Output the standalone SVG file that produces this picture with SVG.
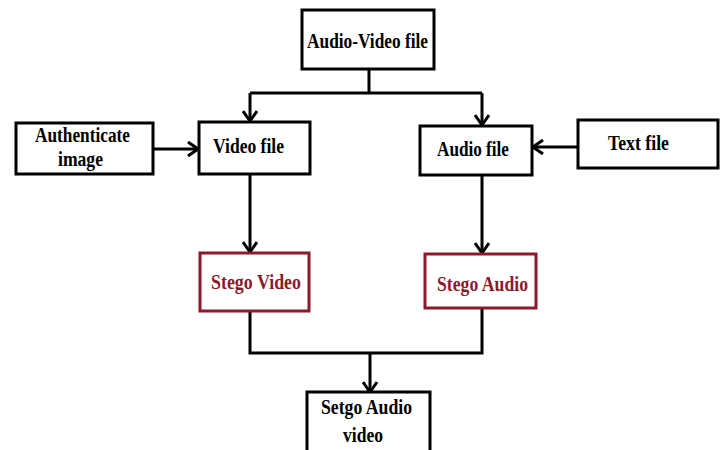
<svg xmlns="http://www.w3.org/2000/svg" width="720" height="450" viewBox="0 0 720 450">
<style>
.box{fill:#fff;stroke:#000;stroke-width:3}
.red{fill:#fff;stroke:#8B1A2B;stroke-width:3}
.t{font-family:"Liberation Serif","Times New Roman",serif;font-weight:bold;font-size:22px;fill:#000;text-anchor:start}
.tr{fill:#8B1A2B}
.ln{fill:none;stroke:#000;stroke-width:3}
</style>
<defs>
<marker id="ah" viewBox="0 0 12 16" refX="11" refY="8" markerWidth="12" markerHeight="16" markerUnits="userSpaceOnUse" orient="auto">
<path d="M1,1 L11,8 L1,15" fill="none" stroke="#000" stroke-width="3"/>
</marker>
</defs>
<g id="connectors">
<path class="ln" d="M369,69 V93"/>
<path class="ln" d="M250,93 H482"/>
<path class="ln" d="M250,93 V121" marker-end="url(#ah)"/>
<path class="ln" d="M482,93 V125" marker-end="url(#ah)"/>
<path class="ln" d="M153,149 H198" marker-end="url(#ah)"/>
<path class="ln" d="M578,147 H533" marker-end="url(#ah)"/>
<path class="ln" d="M250,174 V252" marker-end="url(#ah)"/>
<path class="ln" d="M482,175 V253" marker-end="url(#ah)"/>
<path class="ln" d="M250,311 V353 H482 V308"/>
<path class="ln" d="M370,353 V392" marker-end="url(#ah)"/>
</g>
<g id="audio-video-file">
<rect class="box" x="302" y="10" width="132" height="59"/>
<text class="t" x="307" y="48" textLength="121" lengthAdjust="spacingAndGlyphs">Audio-Video file</text>
</g>
<g id="authenticate-image">
<rect class="box" x="16" y="123" width="137" height="51"/>
<text class="t" x="35" y="142" textLength="95" lengthAdjust="spacingAndGlyphs">Authenticate</text>
<text class="t" x="58" y="166" textLength="45" lengthAdjust="spacingAndGlyphs">image</text>
</g>
<g id="video-file">
<rect class="box" x="199" y="122" width="111" height="52"/>
<text class="t" x="213" y="153" textLength="71" lengthAdjust="spacingAndGlyphs">Video file</text>
</g>
<g id="audio-file">
<rect class="box" x="420" y="126" width="112" height="49"/>
<text class="t" x="437" y="156" textLength="72" lengthAdjust="spacingAndGlyphs">Audio file</text>
</g>
<g id="text-file">
<rect class="box" x="578" y="120" width="140" height="48"/>
<text class="t" x="608" y="150" textLength="61" lengthAdjust="spacingAndGlyphs">Text file</text>
</g>
<g id="stego-video">
<rect class="red" x="200" y="253" width="109" height="58"/>
<text class="t tr" x="211" y="289" textLength="90" lengthAdjust="spacingAndGlyphs">Stego Video</text>
</g>
<g id="stego-audio">
<rect class="red" x="425" y="254" width="111" height="54"/>
<text class="t tr" x="437" y="291" textLength="91" lengthAdjust="spacingAndGlyphs">Stego Audio</text>
</g>
<g id="setgo-audio-video">
<rect class="box" x="307" y="392" width="123" height="62"/>
<text class="t" x="321" y="414" textLength="91" lengthAdjust="spacingAndGlyphs">Setgo Audio</text>
<text class="t" x="343" y="442" textLength="40" lengthAdjust="spacingAndGlyphs">video</text>
</g>
</svg>
